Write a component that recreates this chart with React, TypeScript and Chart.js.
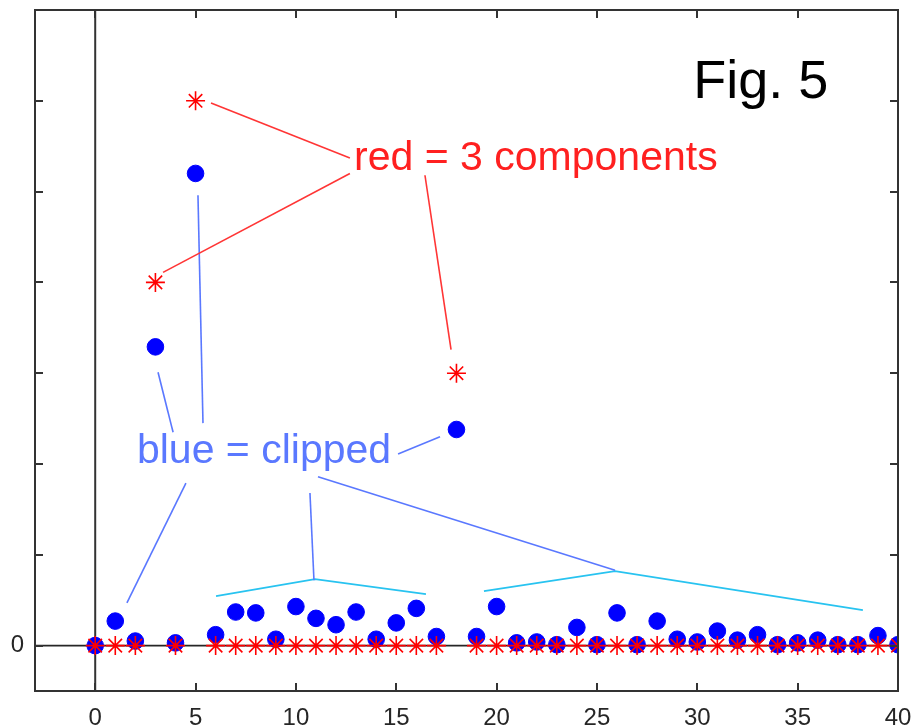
import React, { useEffect, useRef } from 'react';
import { Chart, registerables } from 'chart.js';

Chart.register(...registerables);

// ---------- data ----------
const xIndex = [
  0, 1, 2, 3, 4, 5, 6, 7, 8, 9, 10, 11, 12, 13, 14, 15, 16, 17, 18, 19, 20,
  21, 22, 23, 24, 25, 26, 27, 28, 29, 30, 31, 32, 33, 34, 35, 36, 37, 38, 39, 40,
];
// red = 3 components
const redValues = [
  0, 0, 0, 4, 0, 6, 0, 0, 0, 0, 0, 0, 0, 0, 0, 0, 0, 0, 3, 0, 0,
  0, 0, 0, 0, 0, 0, 0, 0, 0, 0, 0, 0, 0, 0, 0, 0, 0, 0, 0, 0,
];
// blue = clipped
const blueValues = [
  0, 0.27, 0.05, 3.29, 0.03, 5.2, 0.12, 0.37, 0.36, 0.07, 0.43, 0.3, 0.23, 0.37, 0.07,
  0.25, 0.41, 0.1, 2.38, 0.1, 0.43, 0.03, 0.04, 0.01, 0.2, 0.01, 0.36, 0.01, 0.27, 0.07,
  0.04, 0.16, 0.06, 0.12, 0.01, 0.03, 0.06, 0.01, 0.01, 0.11, 0.01,
];

const xTickValues = [0, 5, 10, 15, 20, 25, 30, 35, 40];
const yTickValues = [0, 1, 2, 3, 4, 5, 6, 7];
const yLabelValues = [0];

// annotation texts (data coords: left, baseline)
const figText = { text: 'Fig. 5', x: 29.8, y: 6.03 };
const redText = { text: 'red = 3 components', x: 12.9, y: 5.24 };
const blueText = { text: 'blue = clipped', x: 2.08, y: 2.01 };

// annotation leader lines (data coords)
const redLeaders = [
  [[5.77, 5.975], [12.69, 5.37]],
  [[12.69, 5.2], [3.38, 4.11]],
  [[16.43, 5.18], [17.73, 3.26]],
];
const blueLeaders = [
  [[5.12, 4.96], [5.37, 2.45]],
  [[3.13, 3.01], [3.88, 2.35]],
  [[4.52, 1.79], [1.58, 0.47]],
  [[15.09, 2.11], [17.18, 2.3]],
  [[10.7, 1.68], [10.9, 0.72]],
  [[11.1, 1.86], [25.9, 0.83]],
];
const cyanBrackets = [
  [[6.02, 0.546], [10.95, 0.733], [16.48, 0.568]],
  [[19.37, 0.6], [25.9, 0.82], [38.25, 0.39]],
];
const zeroLines = [
  [[-3, 0], [40, 0]],
  [[0, -0.5], [0, 7]],
];

const FONT = '"Liberation Sans", Arial, Helvetica, sans-serif';

const toPts = (pts: number[][]) => pts.map(([x, y]) => ({ x, y }));

const boxPlugin = {
  id: 'matlabBox',
  afterDatasetsDraw(chart: any) {
    const { ctx, chartArea } = chart;
    const xs = chart.scales.x;
    const ys = chart.scales.y;
    const { left, right, top, bottom } = chartArea;
    ctx.save();
    ctx.strokeStyle = '#333333';
    ctx.lineWidth = 2;
    ctx.strokeRect(left, top, right - left, bottom - top);
    const tl = 8;
    ctx.beginPath();
    xTickValues.forEach((v) => {
      const px = Math.round(xs.getPixelForValue(v));
      ctx.moveTo(px, bottom);
      ctx.lineTo(px, bottom - tl);
      ctx.moveTo(px, top);
      ctx.lineTo(px, top + tl);
    });
    yTickValues.forEach((v) => {
      const py = Math.round(ys.getPixelForValue(v));
      ctx.moveTo(left, py);
      ctx.lineTo(left + tl, py);
      ctx.moveTo(right, py);
      ctx.lineTo(right - tl, py);
    });
    ctx.stroke();

    const drawText = (t: any, size: number, color: string) => {
      ctx.font = `${size}px ${FONT}`;
      ctx.fillStyle = color;
      ctx.textAlign = 'left';
      ctx.textBaseline = 'alphabetic';
      ctx.fillText(t.text, xs.getPixelForValue(t.x), ys.getPixelForValue(t.y));
    };
    drawText(figText, 54, '#000000');
    drawText(redText, 41, '#ff2020');
    drawText(blueText, 41, '#5a78ff');
    ctx.restore();
  },
};

export default function App() {
  const canvasRef = useRef<HTMLCanvasElement | null>(null);

  useEffect(() => {
    if (!canvasRef.current) return;
    const lineDs = (pts: number[][], color: string, width: number, order: number) => ({
      type: 'line' as const,
      data: toPts(pts),
      borderColor: color,
      borderWidth: width,
      pointRadius: 0,
      showLine: true,
      fill: false,
      tension: 0,
      order,
    });

    const datasets: any[] = [
      {
        type: 'scatter',
        label: 'red',
        data: xIndex.map((x, i) => ({ x, y: redValues[i] })),
        pointStyle: 'star',
        pointRadius: 9.5,
        borderColor: '#ff0000',
        backgroundColor: '#ff0000',
        borderWidth: 1.6,
        showLine: false,
        order: 0,
      },
      {
        type: 'scatter',
        label: 'blue',
        data: xIndex.map((x, i) => ({ x, y: blueValues[i] })),
        pointStyle: 'circle',
        pointRadius: 8.3,
        borderColor: '#0000ff',
        backgroundColor: '#0000ff',
        borderWidth: 1,
        showLine: false,
        order: 1,
      },
      ...redLeaders.map((p) => lineDs(p, '#ff3535', 1.6, 2)),
      ...blueLeaders.map((p) => lineDs(p, '#5a78ff', 1.6, 2)),
      ...cyanBrackets.map((p) => lineDs(p, '#28c3f0', 1.8, 2)),
      lineDs(zeroLines[0], '#262626', 1.6, 5),
      lineDs(zeroLines[1], '#333333', 2, 5),
    ];

    const chart = new Chart(canvasRef.current, {
      type: 'scatter',
      data: { datasets },
      plugins: [boxPlugin],
      options: {
        animation: false,
        responsive: true,
        maintainAspectRatio: false,
        layout: { autoPadding: false, padding: { left: 0, right: 14, top: 10, bottom: 0 } },
        plugins: { legend: { display: false }, tooltip: { enabled: false } },
        scales: {
          x: {
            type: 'linear',
            min: -3,
            max: 40,
            grid: { display: false },
            border: { display: false },
            afterBuildTicks: (s: any) => {
              s.ticks = xTickValues.map((v) => ({ value: v }));
            },
            afterFit: (s: any) => {
              s.height = 37;
              s.paddingLeft = 0;
              s.paddingRight = 0;
            },
            ticks: {
              autoSkip: false,
              maxRotation: 0,
              padding: 5,
              color: '#262626',
              font: { family: FONT, size: 24 },
              callback: (v: any) => String(v),
            },
          },
          y: {
            type: 'linear',
            min: -0.5,
            max: 7,
            grid: { display: false },
            border: { display: false },
            afterBuildTicks: (s: any) => {
              s.ticks = yTickValues.map((v) => ({ value: v }));
            },
            afterFit: (s: any) => {
              s.width = 35;
              s.paddingTop = 0;
              s.paddingBottom = 0;
            },
            ticks: {
              autoSkip: false,
              padding: 3,
              color: '#262626',
              font: { family: FONT, size: 24 },
              callback: (v: any) => (yLabelValues.includes(Number(v)) ? String(v) : ''),
            },
          },
        },
      } as any,
    });
    return () => chart.destroy();
  }, []);

  return (
    <div
      style={{
        position: 'fixed',
        left: 0,
        top: 0,
        width: 912,
        height: 728,
        background: '#ffffff',
      }}
    >
      <canvas ref={canvasRef} />
    </div>
  );
}
